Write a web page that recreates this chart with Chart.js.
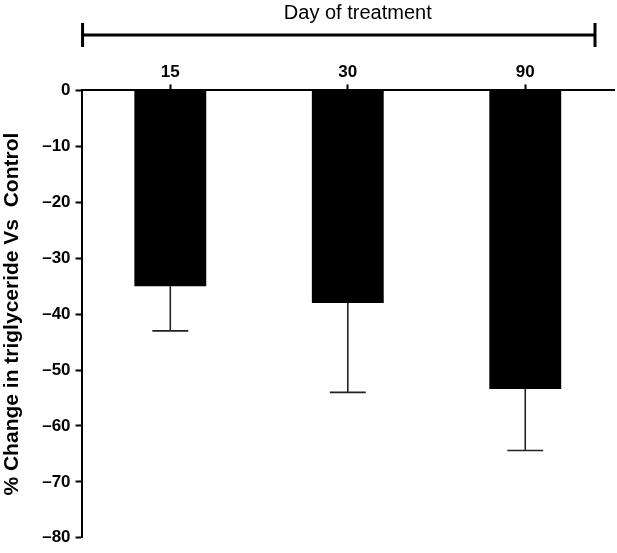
<!DOCTYPE html>
<html>
<head>
<meta charset="utf-8">
<script src="https://cdn.jsdelivr.net/npm/chart.js@4.4.1/dist/chart.umd.min.js"></script>
<style>
  html, body { margin: 0; padding: 0; background: #fff; }
  #wrap { width: 617px; height: 553px; }
</style>
</head>
<body>
<div id="wrap"><canvas id="myChart"></canvas></div>
<script>
// data
const days = ["15", "30", "90"];
const meanChange = [-35, -38, -53.4];
const errorLow = [-43, -54, -64.4];
const yTicks = [0, -10, -20, -30, -40, -50, -60, -70, -80];
const groupTitle = "Day of treatment";

const FONT = "'Liberation Sans', Arial, sans-serif";

// error bars (downward whisker + cap)
const errorBars = {
  id: "errorBars",
  afterDatasetsDraw(chart) {
    const { ctx, scales } = chart;
    const meta = chart.getDatasetMeta(0);
    ctx.save();
    ctx.strokeStyle = "#222";
    ctx.lineWidth = 1.6;
    meta.data.forEach((bar, i) => {
      const x = bar.x;
      const yTop = scales.y.getPixelForValue(meanChange[i]);
      const yLow = scales.y.getPixelForValue(errorLow[i]);
      const half = bar.width / 4;
      ctx.beginPath();
      ctx.moveTo(x, yTop);
      ctx.lineTo(x, yLow);
      ctx.moveTo(x - half, yLow);
      ctx.lineTo(x + half, yLow);
      ctx.stroke();
    });
    ctx.restore();
  },
};

// group title with bracket above the top axis
const bracket = {
  id: "bracket",
  afterDraw(chart) {
    const { ctx, chartArea } = chart;
    const x0 = chartArea.left + 1;
    const x1 = chartArea.right - 19;
    const y = 35;
    ctx.save();
    ctx.strokeStyle = "#000";
    ctx.lineWidth = 3;
    ctx.beginPath();
    ctx.moveTo(x0, y);
    ctx.lineTo(x1, y);
    ctx.moveTo(x0, y - 12);
    ctx.lineTo(x0, y + 12);
    ctx.moveTo(x1, y - 12);
    ctx.lineTo(x1, y + 12);
    ctx.stroke();
    ctx.fillStyle = "#000";
    ctx.font = "20px " + FONT;
    ctx.textAlign = "center";
    ctx.textBaseline = "alphabetic";
    ctx.fillText(groupTitle, (x0 + x1) / 2 + 19, 19);
    ctx.restore();
  },
};

const data = {
  labels: days,
  datasets: [
    {
      label: "% Change",
      data: meanChange,
      backgroundColor: "#000000",
      borderWidth: 0,
      barPercentage: 0.405,
      categoryPercentage: 1,
    },
  ],
};

const config = {
  type: "bar",
  data,
  options: {
    responsive: true,
    maintainAspectRatio: false,
    animation: false,
    layout: {
      padding: { top: 60, right: 3, bottom: 7, left: 0 },
    },
    scales: {
      x: {
        position: "top",
        offset: true,
        border: { display: true, color: "#000", width: 2 },
        grid: {
          display: true,
          drawOnChartArea: false,
          drawTicks: true,
          tickLength: 6,
          tickWidth: 2,
          color: "#000",
          offset: false,
        },
        ticks: {
          color: "#000",
          padding: 2,
          font: { size: 17, weight: "bold", family: FONT },
        },
      },
      y: {
        min: -80,
        max: 0,
        afterBuildTicks(scale) {
          scale.ticks = yTicks.map((v) => ({ value: v }));
        },
        border: { display: true, color: "#000", width: 2 },
        grid: {
          display: true,
          drawOnChartArea: false,
          tickLength: 6,
          tickWidth: 2,
          color: "#000",
        },
        ticks: {
          color: "#000",
          padding: 5,
          font: { size: 17, weight: "bold", family: FONT },
          callback: (v) => (v < 0 ? "\u2013" + Math.abs(v) : String(v)),
        },
        title: {
          display: true,
          text: "% Change in triglyceride Vs  Control",
          color: "#000",
          padding: { top: 0, bottom: 12 },
          font: { size: 21, weight: "bold", family: FONT },
        },
      },
    },
    plugins: {
      legend: { display: false },
      tooltip: { enabled: false },
      title: { display: false },
    },
  },
  plugins: [errorBars, bracket],
};

const myChart = new Chart(document.getElementById("myChart"), config);
</script>
</body>
</html>
